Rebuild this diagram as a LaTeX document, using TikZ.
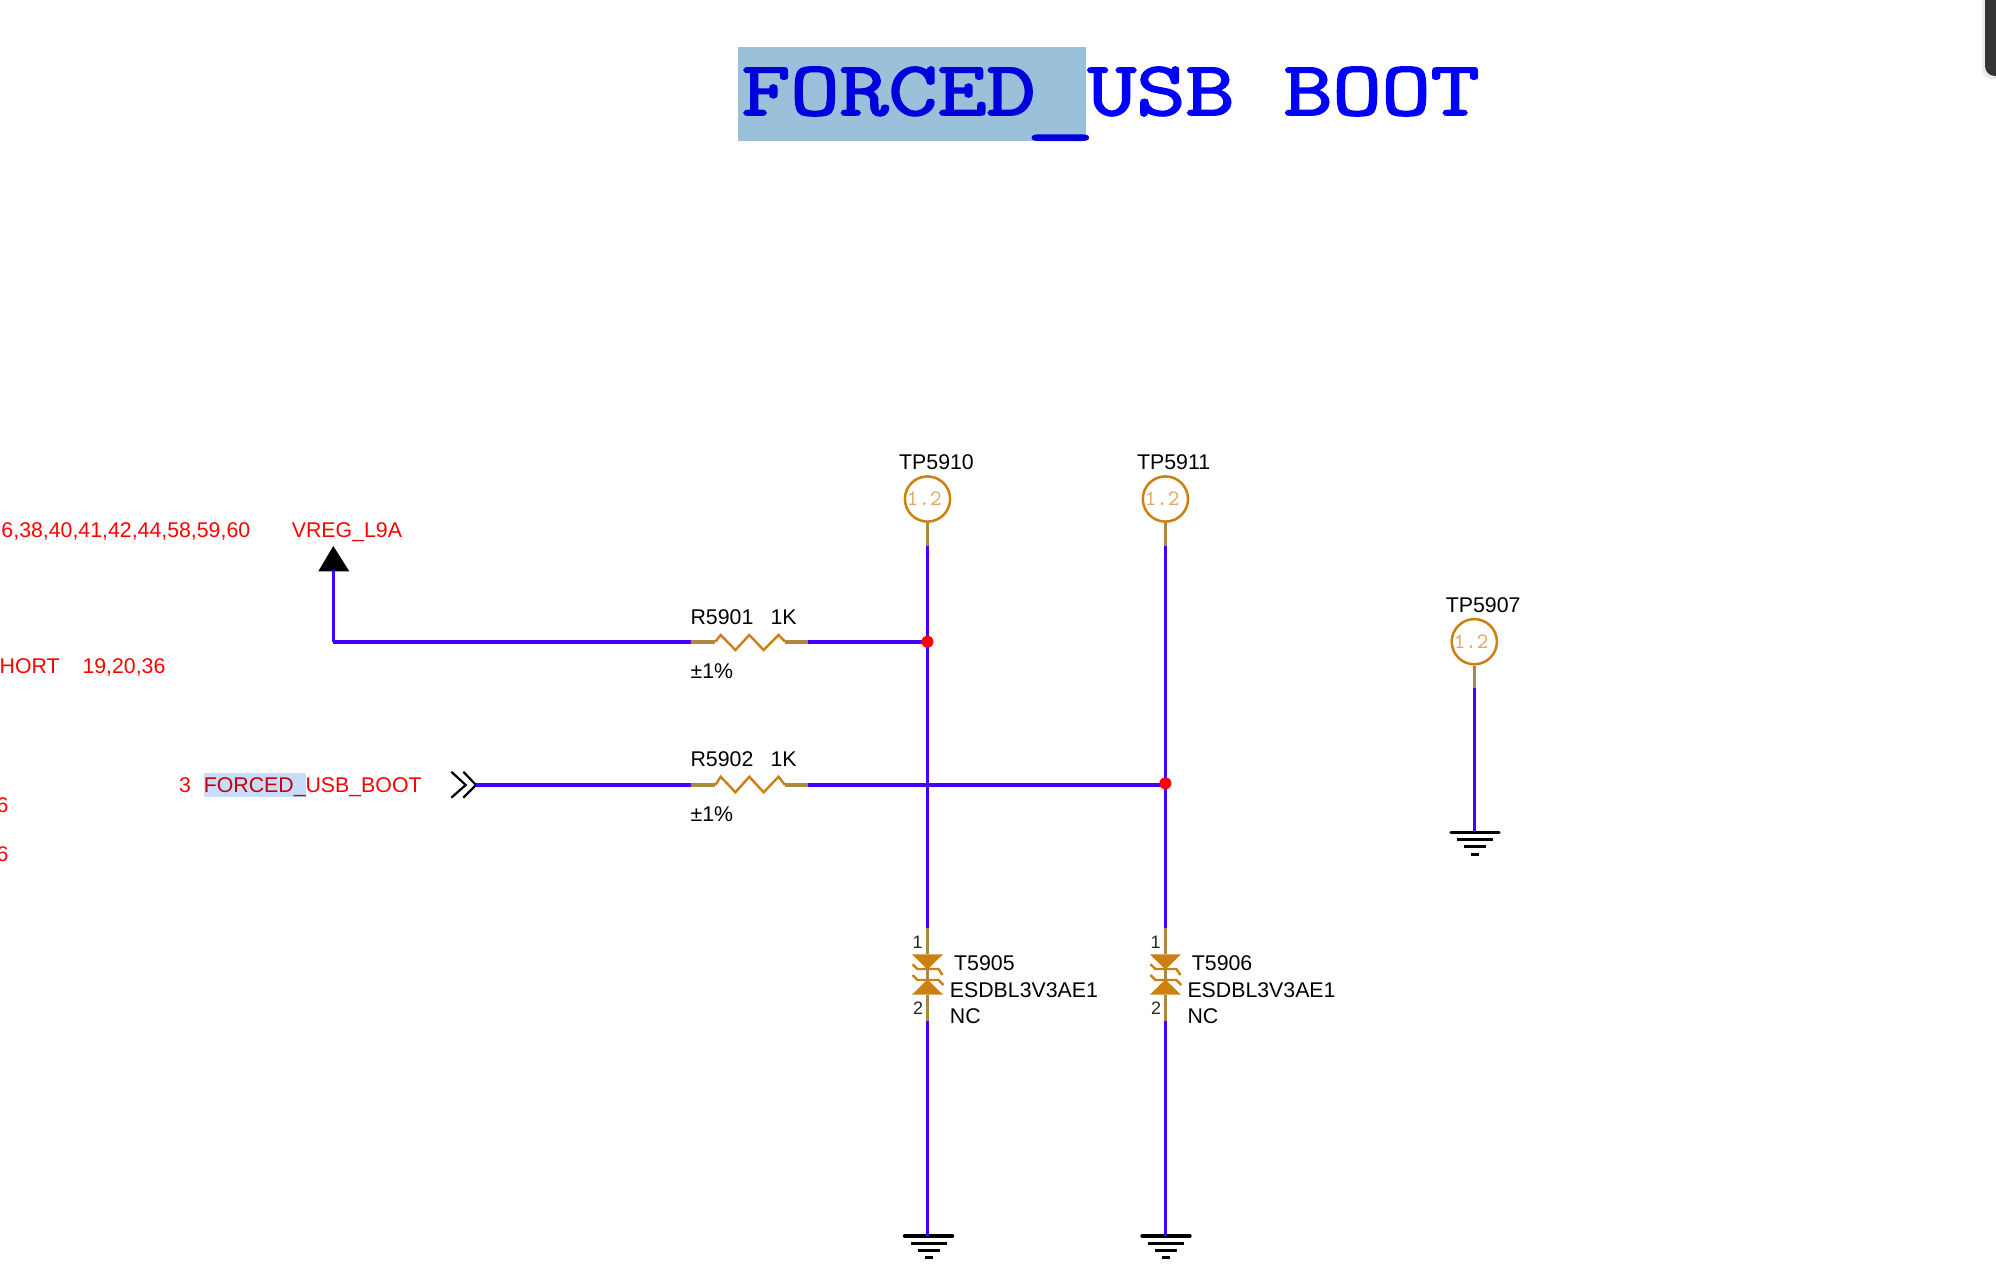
\documentclass[tikz,border=0pt]{standalone}
\usepackage{fontspec}
\setmainfont{Liberation Sans}
\newfontfamily\titlefont[FakeBold=2.2]{Latin Modern Mono}
\newfontfamily\tpfont{Latin Modern Mono}
\definecolor{wirec}{HTML}{4400FF}
\definecolor{orangec}{HTML}{CC8010}
\definecolor{stubc}{HTML}{AE8840}
\definecolor{redc}{HTML}{FF0000}
\definecolor{tptext}{HTML}{E0A868}
\tikzset{
  lab/.style={anchor=base west,inner sep=0pt,xshift=-0.6pt,font=\fontsize{10.65}{12}\selectfont,text=black},
  redlab/.style={lab,text=redc},
  pinlab/.style={anchor=base east,inner sep=0pt,font=\fontsize{9}{10}\selectfont,text=black!85},
  hwire/.style={draw=wirec,line width=2pt},
  vwire/.style={draw=wirec,line width=1.5pt},
  hstub/.style={draw=stubc,line width=2pt},
  vstub/.style={draw=stubc,line width=1.5pt},
  zig/.style={draw=orangec,line width=1.2pt,line join=miter},
  tpoint/.style={circle,draw=orangec,line width=1.25pt,minimum size=22.6pt,inner sep=0pt,fill=white,
     font=\tpfont\fontsize{11}{12}\selectfont,text=tptext},
  junction/.style={circle,fill=redc,minimum size=6pt,inner sep=0pt},
  gbar/.style={draw=black,line width=1.7pt,line cap=round},
  gsmall/.style={draw=black,line width=1.5pt},
  titletxt/.style={anchor=base west,inner sep=0pt,font=\titlefont\fontsize{47.6}{50}\selectfont},
  tvsfill/.style={fill=orangec,draw=none},
  tvsline/.style={draw=orangec,line width=1.2pt},
}
\newcommand{\resistor}[4]{% name, y, top peak, bottom peak
  \coordinate (#1a) at (691.4,#2);
  \coordinate (#1b) at (807.5,#2);
  \coordinate (#1c) at (715.4,#2);
  \coordinate (#1d) at (785,#2);
  \draw[hstub] (#1a) -- (#1c);
  \draw[hstub] (#1d) -- (#1b);
  \draw[zig] (#1c) -- (720.7,#3) -- (735.4,#4) -- (749.3,#3) -- (763.6,#4) -- (778.6,#3) -- (#1d);
}
\newcommand{\groundsym}[3]{% name, x, y
  \coordinate (#1) at (#2,#3);
  \draw[gbar] ($(#1)+(-24,0)$) -- ($(#1)+(24,0)$);
  \draw[gsmall] ($(#1)+(-18,7.2)$) -- ($(#1)+(18,7.2)$);
  \draw[gsmall] ($(#1)+(-11,14.5)$) -- ($(#1)+(11,14.5)$);
  \draw[gsmall] ($(#1)+(-4,21.7)$) -- ($(#1)+(4,21.7)$);
}
\newcommand{\tvs}[2]{% name, x
  \coordinate (#1t) at (#2,928);
  \coordinate (#1b) at (#2,1020.7);
  \coordinate (#1u) at (#2,954.3);
  \coordinate (#1l) at (#2,994.7);
  \draw[vstub] (#1t) -- (#1u);
  \draw[vstub] (#1l) -- (#1b);
  \draw[vstub] (#2,969) -- (#2,980);
  \fill[tvsfill] (#2-15.5,954.3) -- (#2+15.5,954.3) -- (#2,969.5) -- cycle;
  \fill[tvsfill] (#2-15.5,994.7) -- (#2+15.5,994.7) -- (#2,979.5) -- cycle;
  \draw[tvsline] (#2-15,964.3) -- (#2-10,969) -- (#2+11,969) -- (#2+15,975);
  \draw[tvsline] (#2-15,975) -- (#2-10,980) -- (#2+11,980) -- (#2+16,985);
}
\usetikzlibrary{calc}
\begin{document}
\begin{tikzpicture}[x=0.5pt,y=-0.5pt]
\useasboundingbox (0,0) rectangle (1996,1286);
\fill[white] (0,0) rectangle (1996,1286);

% window corner
\fill[black!8,rounded corners=5pt] (1982,-20) rectangle (2010,79);
\fill[black!80,rounded corners=5pt] (1985,-20) rectangle (2010,76);

% title
\fill[color={rgb,255:red,155;green,192;blue,217}] (737.8,47) rectangle (1086,141);
\node[titletxt,text={rgb,255:red,0;green,0;blue,220}] (titleA) at (741,115) {\scalebox{1}[0.81]{FORCED\hspace*{-5pt}\raisebox{-6pt}{\scalebox{1.42}[1]{\_}}\hspace*{-9pt}}};
\node[titletxt,text={rgb,255:red,0;green,0;blue,255}] (titleB) at (1087,115) {\scalebox{1}[0.81]{USB BOOT}};

% left red labels
\node[redlab] (n1) at (2.3,537.7) {6,38,40,41,42,44,58,59,60};
\node[redlab] (vreg) at (292.7,537.7) {VREG\_L9A};
\node[redlab] (hort) at (0.5,673.7) {HORT};
\node[redlab] (n2) at (83.3,673.7) {19,20,36};
\node[redlab] (n3) at (180,792.7) {3};
\fill[color={rgb,255:red,200;green,221;blue,250}] (204,773) rectangle (306,796.7);
\node[redlab,text={rgb,255:red,195;green,0;blue,10}] (fb1) at (204.7,792.7) {FORCED\_};
\node[redlab,anchor=base east,xshift=0.6pt] (fb2) at (422,792.7) {USB\_BOOT};
\node[redlab] (six1) at (-2.7,812.3) {6};
\node[redlab] (six2) at (-2.7,861) {6};

% power arrow and off-page connector
\coordinate (vapex) at (333.3,546);
\coordinate (vbase) at (333.3,570);
\fill[black] (vapex) -- (349.3,571.3) -- (318.3,571.3) -- cycle;
\coordinate (vcorner) at (333.3,641.7);
\coordinate (chev) at (476,785);
\draw[black,line width=1.1pt] (451.3,771.7) -- (465.7,785) -- (451.3,797.7);
\draw[black,line width=1.1pt] (463.3,771.7) -- (chev) -- (463.3,797.7);

% resistors
\resistor{ra}{641.7}{635}{650}
\resistor{rb}{785}{776.7}{792.3}
\node[lab] (ra1) at (691.4,624) {R5901};
\node[lab] (ra2) at (771.4,624) {1K};
\node[lab] (ra3) at (691.4,678.7) {±1\%};
\node[lab] (rb1) at (691.4,766) {R5902};
\node[lab] (rb2) at (771.4,766) {1K};
\node[lab] (rb3) at (691.4,821.7) {±1\%};

% test points
\node[tpoint] (tpa) at (927.5,499) {\hspace*{-1.6pt}1.2\hspace*{1.6pt}};
\node[tpoint] (tpb) at (1165.4,499) {\hspace*{-1.6pt}1.2\hspace*{1.6pt}};
\node[tpoint] (tpc) at (1474.3,641.7) {\hspace*{-1.6pt}1.2\hspace*{1.6pt}};
\node[lab] (tpal) at (900,469) {TP5910};
\node[lab] (tpbl) at (1137.9,469) {TP5911};
\node[lab] (tpcl) at (1446.7,612.3) {TP5907};
\coordinate (tpas) at (927.5,545.7);
\coordinate (tpbs) at (1165.4,545.7);
\coordinate (tpcs) at (1474.3,687.7);
\draw[vstub] (tpa) -- (tpas);
\draw[vstub] (tpb) -- (tpbs);
\draw[vstub] (tpc) -- (tpcs);

% TVS diodes
\tvs{da}{927.5}
\tvs{db}{1165.4}
\node[pinlab] at (923,948) {1};
\node[pinlab] at (923.5,1014) {2};
\node[pinlab] at (1161,948) {1};
\node[pinlab] at (1161.4,1014) {2};
\node[lab] (dal1) at (955,970.7) {T5905};
\node[lab] (dal2) at (950.7,997.3) {ESDBL3V3AE1};
\node[lab] (dal3) at (950.7,1023.7) {NC};
\node[lab] (dbl1) at (1192.7,970.7) {T5906};
\node[lab] (dbl2) at (1188.3,997.3) {ESDBL3V3AE1};
\node[lab] (dbl3) at (1188.3,1023.7) {NC};

% grounds
\groundsym{ga}{928.5}{1236}
\groundsym{gb}{1166}{1236}
\groundsym{gc}{1475}{832.3}

% wires
\path (927.5,641.7) coordinate (ja0) (1165.4,785) coordinate (jb0);
\draw[vwire] (vbase) -- (vcorner);
\draw[hwire] (vcorner) -- (raa);
\draw[hwire] (rab) -- (ja0);
\draw[hwire] (chev) -- (rba);
\draw[hwire] (rbb) -- (jb0);
\draw[vwire] (tpas) -- (dat);
\draw[vwire] (tpbs) -- (dbt);
\draw[vwire] (dab) -- (927.5,1236);
\draw[vwire] (dbb) -- (1165.4,1236);
\draw[vwire] (tpcs) -- (1474.3,832.3);

% junctions
\node[junction] (ja) at (927.5,641.7) {};
\node[junction] (jb) at (1165.4,783.3) {};
\end{tikzpicture}
\end{document}
